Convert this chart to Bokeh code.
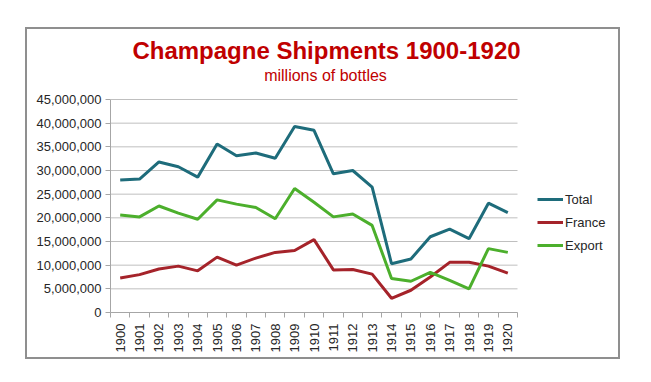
from bokeh.plotting import figure
from bokeh.models import (ColumnDataSource, FixedTicker, NumeralTickFormatter, Range1d,
                          Legend, LegendItem, Label)
from bokeh.embed import file_html
from bokeh.resources import INLINE
import math

years = list(range(1900, 1921))
total = [28.0, 28.2, 31.8, 30.8, 28.6, 35.6, 33.1, 33.7, 32.6, 39.3, 38.5,
         29.3, 30.0, 26.5, 10.3, 11.3, 16.0, 17.6, 15.6, 23.1, 21.1]
france = [7.3, 8.0, 9.2, 9.8, 8.8, 11.7, 10.0, 11.5, 12.7, 13.1, 15.4,
          9.0, 9.1, 8.1, 3.0, 4.7, 7.5, 10.6, 10.6, 9.8, 8.3]
export = [20.6, 20.2, 22.5, 21.0, 19.7, 23.8, 22.9, 22.2, 19.8, 26.2, 23.3,
          20.2, 20.8, 18.4, 7.2, 6.6, 8.5, 6.8, 5.0, 13.5, 12.7]
y_ticks = [0, 5000000, 10000000, 15000000, 20000000, 25000000, 30000000,
           35000000, 40000000, 45000000]

src = ColumnDataSource(dict(
    year=years,
    total=[v * 1e6 for v in total],
    france=[v * 1e6 for v in france],
    export=[v * 1e6 for v in export],
))

W, H = 595, 332
FL, FR, FB = 83, 585, 283                    # frame edges on the canvas (frame top = 0)
Y45 = 70                                     # canvas y of the top gridline
cat_px = (517 - 110) / len(years)            # pixels per year
x0 = years[0] - 0.5
x1 = x0 + (FR - FL) / cat_px
y_top = y_ticks[-1] * FB / (FB - Y45)

p = figure(width=W, height=H, output_backend="svg", toolbar_location=None,
           x_range=Range1d(x0, x1), y_range=Range1d(0, y_top),
           min_border_left=FL, min_border_right=W - FR, min_border_top=0,
           min_border_bottom=H - FB, margin=(27, 0, 0, 25),
           styles={"border": "2px solid #8F8F8F"})
p.outline_line_color = None
p.background_fill_color = "white"
p.border_fill_color = "white"

# titles (inside the frame area, above the plotted region)
p.add_layout(Label(x=297, y=19, x_units="canvas", y_units="canvas",
                   text="Champagne Shipments 1900-1920", text_align="center",
                   text_baseline="middle", text_font="Liberation Sans",
                   text_font_style="bold", text_font_size="24px",
                   text_color="#C00000"))
p.add_layout(Label(x=296, y=44, x_units="canvas", y_units="canvas",
                   text="millions of bottles", text_align="center",
                   text_baseline="middle", text_font="Liberation Sans",
                   text_font_size="16px", text_color="#C00000"))

# gridlines only across the plotted years
n = len(y_ticks)
p.segment(x0=[x0] * n, x1=[years[-1] + 0.5] * n, y0=y_ticks, y1=y_ticks,
          line_color="#BFBFBF", line_width=1)
p.xgrid.grid_line_color = None
p.ygrid.grid_line_color = None

# Axes
p.xaxis.bounds = (x0, years[-1] + 0.5)
p.xaxis.ticker = FixedTicker(ticks=years, minor_ticks=[y - 0.5 for y in years] + [years[-1] + 0.5])
p.xaxis.major_label_orientation = math.pi / 2
p.xaxis.major_tick_out = 0
p.xaxis.major_tick_in = 0
p.xaxis.minor_tick_out = 5
p.xaxis.minor_tick_in = 0
p.xaxis.minor_tick_line_color = "#A6A6A6"
p.xaxis.axis_line_color = "#A6A6A6"
p.xaxis.major_label_text_font = "Liberation Sans"
p.xaxis.major_label_text_font_size = "13px"
p.xaxis.major_label_text_color = "#262626"
p.xaxis.major_label_standoff = 6

p.yaxis.bounds = (0, y_ticks[-1])
p.yaxis.ticker = FixedTicker(ticks=y_ticks)
p.yaxis.formatter = NumeralTickFormatter(format="0,0")
p.yaxis.major_tick_out = 5
p.yaxis.major_tick_in = 0
p.yaxis.minor_tick_out = 0
p.yaxis.minor_tick_in = 0
p.yaxis.major_tick_line_color = "#A6A6A6"
p.yaxis.axis_line_color = "#A6A6A6"
p.yaxis.major_label_text_font = "Liberation Sans"
p.yaxis.major_label_text_font_size = "13px"
p.yaxis.major_label_text_color = "#262626"
p.yaxis.major_label_standoff = 4

r_total = p.line("year", "total", source=src, line_color="#1E6C7B", line_width=3)
r_france = p.line("year", "france", source=src, line_color="#A5232A", line_width=3)
r_export = p.line("year", "export", source=src, line_color="#4CAF2C", line_width=3)

legend = Legend(items=[LegendItem(label="Total", renderers=[r_total]),
                       LegendItem(label="France", renderers=[r_france]),
                       LegendItem(label="Export", renderers=[r_export])],
                location=(427, 57), glyph_width=26, spacing=3, padding=0,
                label_text_font="Liberation Sans", label_text_font_size="13px",
                label_text_color="#262626", border_line_color=None,
                background_fill_alpha=0, label_standoff=2)
p.add_layout(legend)

open("out.html", "w").write(file_html(p, INLINE))
